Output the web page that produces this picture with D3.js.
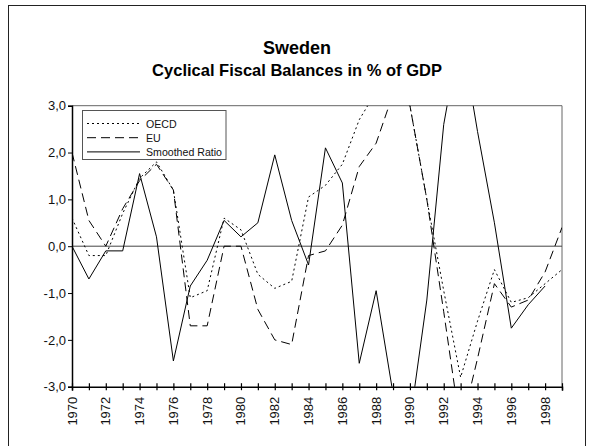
<!DOCTYPE html>
<html lang="en">
	<head>
		<meta charset="utf-8">
		<title>Sweden - Cyclical Fiscal Balances</title>
		<script type="text/javascript" src="https://cdn.jsdelivr.net/npm/d3@7"></script>
		<style type="text/css">
			body { margin: 0; background: #fff; }
			text { font-family: "Liberation Sans", Arial, sans-serif; }
		</style>
	</head>
	<body>
		<div id="chart"></div>
		<script type="text/javascript">

			//Data
			var years = [1970, 1971, 1972, 1973, 1974, 1975, 1976, 1977, 1978, 1979,
			             1980, 1981, 1982, 1983, 1984, 1985, 1986, 1987, 1988, 1989,
			             1990, 1991, 1992, 1993, 1994, 1995, 1996, 1997, 1998, 1999];

			var oecd = [0.6, -0.2, -0.2, 0.7, 1.45, 1.8, 1.2, -1.1, -0.95, 0.6,
			            0.35, -0.6, -0.9, -0.75, 1.05, 1.3, 1.75, 2.7, 3.3, 3.5,
			            3.0, 1.0, -0.95, -2.8, -1.6, -0.5, -1.2, -1.1, -0.8, -0.5];

			var eu = [2.0, 0.55, 0.0, 0.8, 1.4, 1.75, 1.2, -1.7, -1.7, 0.0,
			          0.0, -1.35, -2.0, -2.1, -0.2, -0.1, 0.45, 1.7, 2.2, 3.25,
			          3.0, 1.0, -1.4, -3.9, -2.4, -0.8, -1.3, -1.15, -0.55, 0.4];

			var smoothed = [0.0, -0.7, -0.1, -0.1, 1.55, 0.2, -2.45, -0.85, -0.3, 0.55,
			                0.2, 0.5, 1.95, 0.55, -0.4, 2.1, 1.35, -2.5, -0.95, -3.15,
			                -3.75, -1.15, 2.6, 4.6, 2.45, 0.5, -1.75, -1.25, -0.85, null];

			var yTicks = [-3, -2, -1, 0, 1, 2, 3];
			var labelYears = [1970, 1972, 1974, 1976, 1978, 1980, 1982, 1984,
			                  1986, 1988, 1990, 1992, 1994, 1996, 1998];

			var seriesNames = ["OECD", "EU", "Smoothed Ratio"];
			var seriesData = [oecd, eu, smoothed];
			var dashes = ["2,3", "9,5", null];

			//Width and height
			var w = 593;
			var h = 446;
			var plotLeft = 72, plotRight = 562, plotTop = 105.7, plotBottom = 386.7;

			var svg = d3.select("#chart")
						.append("svg")
						.attr("width", w)
						.attr("height", h);

			svg.append("rect")
			   .attr("x", 0).attr("y", 0)
			   .attr("width", w).attr("height", h)
			   .attr("fill", "white");

			//outer frame
			svg.append("rect")
			   .attr("x", 8.5).attr("y", 5.5)
			   .attr("width", 577).attr("height", 460)
			   .attr("fill", "none")
			   .attr("stroke", "#222")
			   .attr("stroke-width", 1);

			//scales
			var x = d3.scaleLinear()
					  .domain([1970, 1999])
					  .range([plotLeft, plotRight]);

			var y = d3.scaleLinear()
					  .domain([-3, 3])
					  .range([plotBottom, plotTop]);

			//top and right frame of the plot
			svg.append("path")
			   .attr("d", "M" + plotLeft + "," + plotTop + "H" + plotRight + "V" + plotBottom)
			   .attr("fill", "none")
			   .attr("stroke", "#666")
			   .attr("stroke-width", 1);

			//zero line
			svg.append("line")
			   .attr("x1", plotLeft).attr("x2", plotRight)
			   .attr("y1", y(0)).attr("y2", y(0))
			   .attr("stroke", "#444")
			   .attr("stroke-width", 1);

			//clip for lines going off the scale
			svg.append("clipPath")
			   .attr("id", "plotclip")
			   .append("rect")
			   .attr("x", plotLeft).attr("y", plotTop)
			   .attr("width", plotRight - plotLeft).attr("height", plotBottom - plotTop);

			var line = d3.line()
						 .defined(function(d) { return d != null; })
						 .x(function(d, i) { return x(years[i]); })
						 .y(function(d) { return y(d); });

			svg.append("g")
			   .attr("clip-path", "url(#plotclip)")
			   .selectAll("path")
			   .data(seriesData)
			   .enter()
			   .append("path")
			   .attr("d", line)
			   .attr("fill", "none")
			   .attr("stroke", "black")
			   .attr("stroke-width", 1)
			   .attr("stroke-dasharray", function(d, i) { return dashes[i]; });

			//y axis
			var yAxis = d3.axisLeft(y)
						  .tickValues(yTicks)
						  .tickSize(4)
						  .tickPadding(2)
						  .tickFormat(function(d) { return d.toFixed(1).replace(".", ","); });

			var gy = svg.append("g")
						.attr("transform", "translate(" + plotLeft + ",0)")
						.call(yAxis);
			gy.select(".domain").attr("stroke", "black").attr("stroke-width", 1.5);
			gy.selectAll("text")
			  .attr("font-size", 13)
			  .attr("font-family", "Liberation Sans, Arial, sans-serif")
			  .attr("fill", "#111");

			//x axis
			var xAxis = d3.axisBottom(x)
						  .tickValues(years)
						  .tickSize(4)
						  .tickFormat("");

			var gx = svg.append("g")
						.attr("transform", "translate(0," + plotBottom + ")")
						.call(xAxis);
			gx.select(".domain").attr("stroke", "black").attr("stroke-width", 1.5);
			gx.selectAll(".tick line").attr("y1", -3.5).attr("y2", 3.5).attr("stroke-width", 1.2);

			svg.selectAll(".yearLabel")
			   .data(labelYears)
			   .enter()
			   .append("text")
			   .attr("class", "yearLabel")
			   .attr("transform", function(d) {
			   	return "translate(" + (x(d) + 4.5) + "," + (plotBottom + 10) + ") rotate(-90)";
			   })
			   .attr("text-anchor", "end")
			   .attr("font-size", 13)
			   .attr("fill", "#111")
			   .text(function(d) { return d; });

			//legend
			var legend = svg.append("g");
			legend.append("rect")
			   .attr("x", 82.5).attr("y", 110.5)
			   .attr("width", 143.5).attr("height", 49)
			   .attr("fill", "white")
			   .attr("stroke", "#555")
			   .attr("stroke-width", 1);

			legend.selectAll("line")
			   .data(seriesNames)
			   .enter()
			   .append("line")
			   .attr("x1", 87).attr("x2", 140)
			   .attr("y1", function(d, i) { return 123.5 + i * 14.2; })
			   .attr("y2", function(d, i) { return 123.5 + i * 14.2; })
			   .attr("stroke", "black")
			   .attr("stroke-width", 1)
			   .attr("stroke-dasharray", function(d, i) { return dashes[i]; });

			legend.selectAll("text")
			   .data(seriesNames)
			   .enter()
			   .append("text")
			   .attr("x", 146)
			   .attr("y", function(d, i) { return 127.5 + i * 14.2; })
			   .attr("font-size", 10.6)
			   .attr("fill", "#111")
			   .text(function(d) { return d; });

			//titles
			svg.append("text")
			   .attr("x", 297)
			   .attr("y", 54)
			   .attr("text-anchor", "middle")
			   .attr("font-size", 18)
			   .attr("font-weight", "bold")
			   .text("Sweden");

			svg.append("text")
			   .attr("x", 297)
			   .attr("y", 76)
			   .attr("text-anchor", "middle")
			   .attr("font-size", 16.5)
			   .attr("font-weight", "bold")
			   .text("Cyclical Fiscal Balances in % of GDP");

		</script>
	</body>
</html>
